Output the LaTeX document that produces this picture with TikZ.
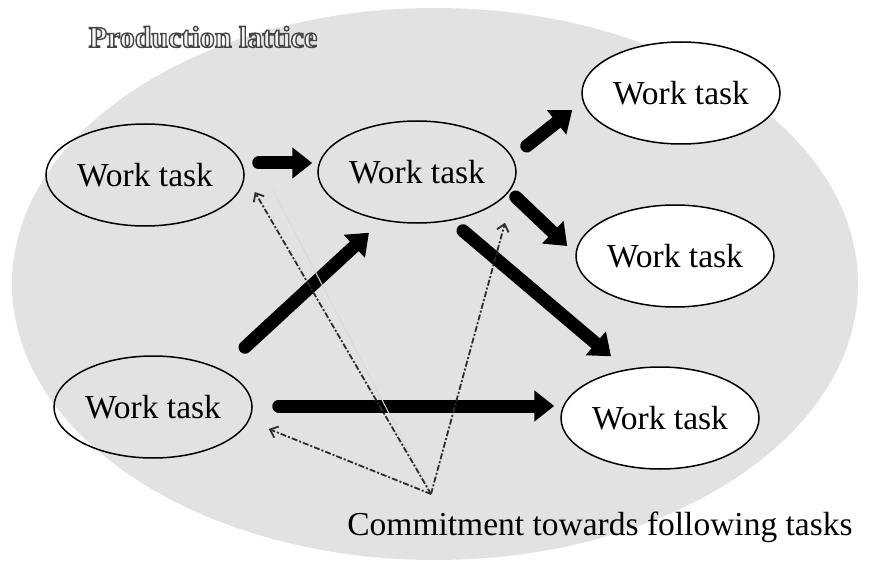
\documentclass[tikz,border=0pt]{standalone}
\usepackage{fontspec}
\setmainfont{Liberation Serif}
\usetikzlibrary{shapes.geometric,arrows.meta}
\definecolor{bggray}{RGB}{226,226,226}
\definecolor{dashgray}{RGB}{45,45,45}
\definecolor{titlein}{RGB}{245,245,245}
\newcommand{\outlinedtext}[1]{{\color{titlein}\special{pdf:literal direct 2 Tr 1.4 w 0.27 0.27 0.27 RG}#1\special{pdf:literal direct 0 Tr}}}
\begin{document}
\begin{tikzpicture}[x=1pt,y=-1pt,
  task/.style={ellipse,draw=black,line width=1.5pt,minimum width=198pt,minimum height=102pt,inner sep=0pt,font=\fontsize{33.5}{40}\selectfont},
  whitetask/.style={task,fill=white},
  flow/.style={draw=black,line width=13pt,line cap=round,-{Triangle[length=20pt,width=30pt]}},
  commit/.style={draw=dashgray,line width=1.8pt,dash pattern=on 6pt off 2pt on 2pt off 2pt,-{Straight Barb[length=7pt,width=12pt]}},
  faint/.style={draw=gray!30,line width=1pt}]
\useasboundingbox (0,0) rectangle (873,567);
\fill[white] (0,0) rectangle (873,567);
\fill[bggray] (435,284) ellipse [x radius=423pt, y radius=276pt];

\node[font=\fontsize{30}{36}\selectfont\bfseries] (title) at (203,37)
  {\outlinedtext{Production lattice}};

\node[task] (n1) at (145,175) {Work task};
\node[task] (n2) at (417,172) {Work task};
\node[whitetask] (n3) at (681,93) {Work task};
\node[whitetask] (n4) at (675,256) {Work task};
\node[whitetask] (n5) at (660,418) {Work task};
\node[task] (n6) at (153,407) {Work task};

\node[anchor=base,font=\fontsize{33.5}{40}\selectfont] (cap) at (600,535) {Commitment towards following tasks};

\draw[flow] ([shift={(14,-12)}]n1.east) -- ([shift={(-5,-9)}]n2.west);
\draw[flow] ([shift={(92,-8)}]n6.north) -- ([shift={(-48,9)}]n2.south);
\draw[flow] ([shift={(10,-26)}]n2.east) -- ([shift={(-9,17)}]n3.west);
\draw[flow] ([shift={(-1,25)}]n2.east) -- ([shift={(-8,-10)}]n4.west);
\draw[flow] ([shift={(46,7)}]n2.south) -- ([shift={(-49,-10)}]n5.north);
\draw[flow] ([shift={(26,-1)}]n6.east) -- ([shift={(-6,-12)}]n5.west);

\coordinate (P) at (431,494);
\draw[faint] ([shift={(28,15)}]n1.east) -- (P);
\draw[commit] (P) -- ([shift={(10,17)}]n1.east);
\draw[commit] (P) -- ([shift={(88,-1)}]n2.south);
\draw[commit] (P) -- ([shift={(16,22)}]n6.east);
\end{tikzpicture}
\end{document}
